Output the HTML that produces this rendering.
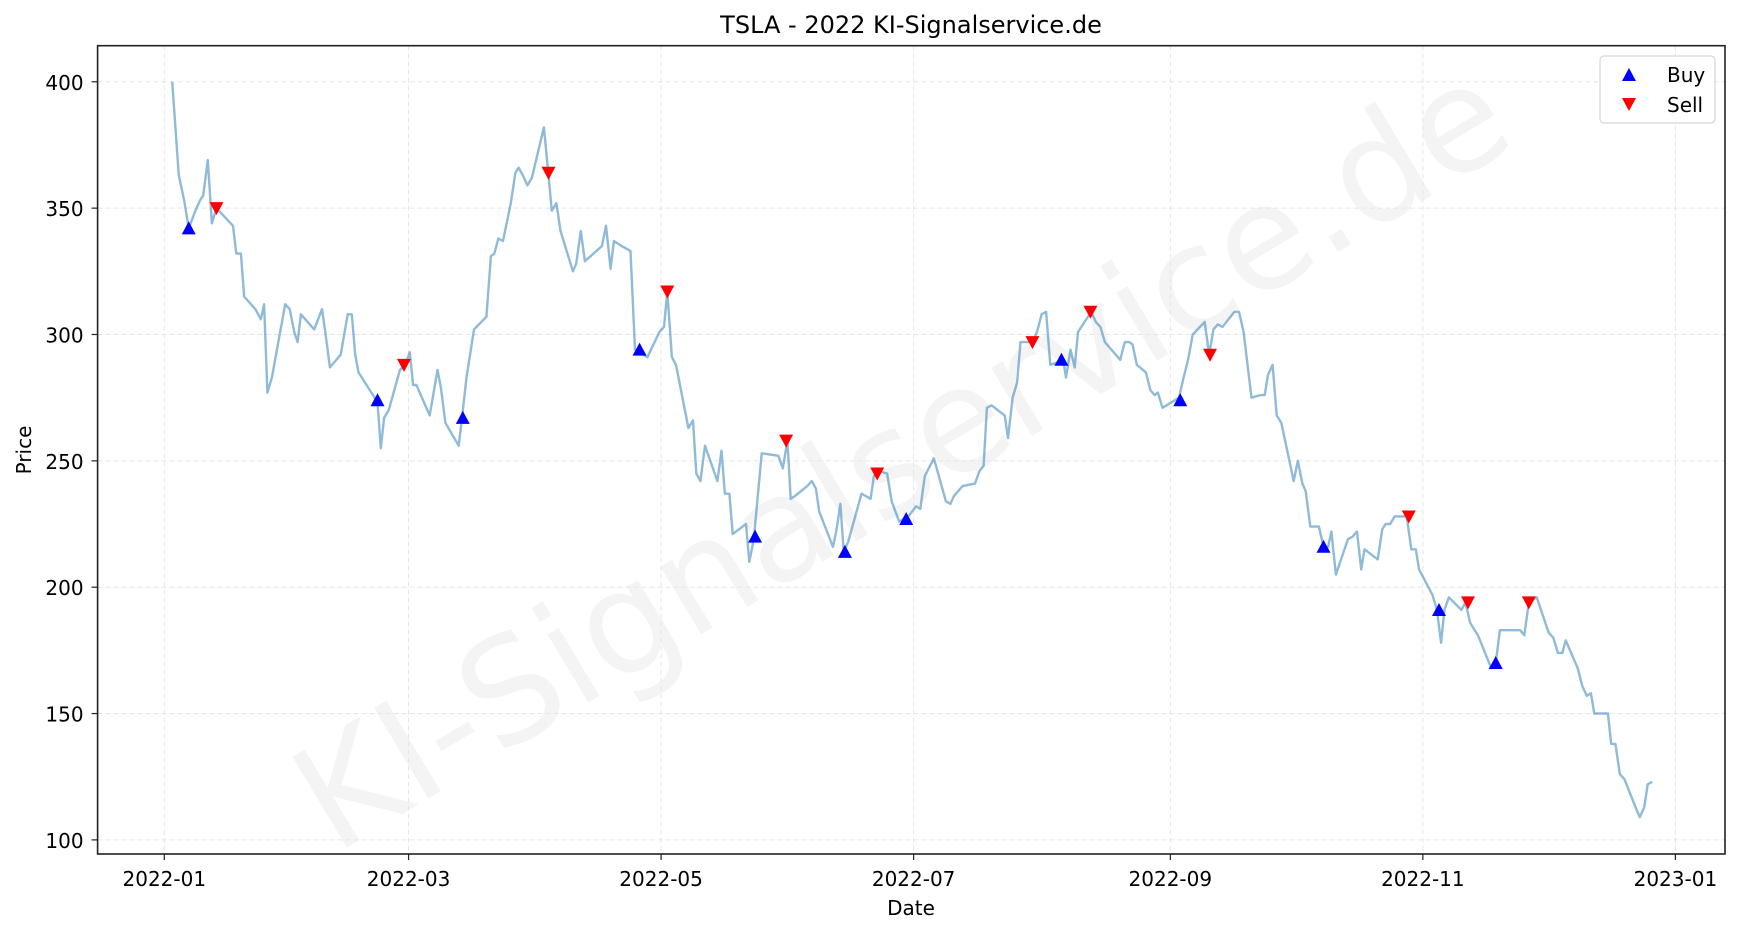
<!DOCTYPE html>
<html><head><meta charset="utf-8"><style>
html,body{margin:0;padding:0;background:#fff;}
svg text{font-family:"DejaVu Sans","Liberation Sans",sans-serif;}
</style></head><body>
<svg id="chart" width="1740" height="932" viewBox="0 0 1740 932" xmlns="http://www.w3.org/2000/svg">
<rect x="0" y="0" width="1740" height="932" fill="#fff"/>
<text x="905" y="505" font-size="145" fill="#000" fill-opacity="0.045" text-anchor="middle" transform="rotate(-31 905 462)">KI-Signalservice.de</text>
<g id="grid"></g>
<g id="lines"></g>
<g id="marks"></g>
<rect x="97.6" y="45.7" width="1627.4" height="808.3" fill="none" stroke="#222" stroke-width="1.6"/>
<g id="axes"></g>
<text x="911" y="33" font-size="24" text-anchor="middle" fill="#000">TSLA - 2022 KI-Signalservice.de</text>
<text x="911" y="915" font-size="20" text-anchor="middle" fill="#000">Date</text>
<text x="31" y="450" font-size="20" text-anchor="middle" fill="#000" transform="rotate(-90 31 450)">Price</text>
<g>
<rect x="1600" y="56" width="115" height="67" rx="4" fill="#fff" fill-opacity="0.85" stroke="#d6d6d6" stroke-width="1.2"/>
<polygon points="1629,68 1636,81 1622,81" fill="#0000ff"/>
<text x="1667" y="82" font-size="20">Buy</text>
<polygon points="1622,98 1636,98 1629,111" fill="#ff0000"/>
<text x="1667" y="112" font-size="20">Sell</text>
</g>
</svg>
<script>
const priceDays=[1.9,3.5,4.8,5.9,7.5,8.6,9.4,10.5,11.5,12.6,16.6,17.4,18.5,19.3,22.0,23.3,24.1,24.9,26.0,29.2,30.3,31.4,32.2,33.0,36.2,38.1,38.9,40.0,42.6,44.3,45.3,46.1,46.9,50.4,51.5,52.3,53.1,54.2,56.9,58.2,59.3,60.1,60.9,64.1,66.0,66.8,67.9,71.1,71.9,73.0,74.8,77.8,78.9,79.7,80.7,81.8,83.7,84.8,85.6,86.6,87.7,88.8,91.7,92.8,93.6,94.7,95.7,98.7,99.5,100.6,101.6,105.7,106.7,107.8,108.6,110.5,112.6,113.7,116.7,119.6,120.7,121.5,122.6,123.6,126.6,127.7,128.5,129.5,130.6,133.6,134.6,135.4,136.5,137.3,140.5,141.3,142.4,144.3,148.3,149.4,150.5,151.3,152.3,155.3,156.4,157.4,158.2,161.5,162.3,163.3,164.1,165.2,168.4,170.6,171.4,172.5,174.6,175.7,177.5,179.7,181.6,182.6,183.7,185.9,188.8,189.9,190.7,192.8,195.8,196.9,197.9,198.7,199.8,203.0,203.8,204.9,206.0,206.8,208.9,210.0,210.8,211.9,213.0,214.0,215.9,217.0,217.8,218.9,219.9,220.7,223.9,225.0,226.1,227.2,230.9,232.0,233.1,233.9,234.9,237.1,238.2,239.2,240.0,241.1,244.1,245.1,246.2,247.3,248.4,251.3,252.4,253.4,254.5,255.6,258.5,259.6,260.7,262.6,264.7,265.8,266.6,267.7,268.7,269.8,272.8,273.8,274.9,275.7,276.8,278.9,280.0,281.1,281.9,283.0,285.9,287.0,288.1,289.1,289.9,293.1,294.2,295.0,296.1,297.2,298.2,299.3,300.1,301.2,302.3,303.1,306.3,307.4,308.4,309.2,310.3,313.3,314.3,315.4,316.5,317.3,320.5,321.6,322.6,325.6,327.5,328.5,329.6,330.4,331.5,334.4,335.5,336.6,337.7,338.5,341.4,342.5,343.6,344.6,345.4,348.7,349.5,350.5,351.6,352.7,355.6,356.4,357.5,358.3,359.4];
const prices=[400,363,353,342,349,353,355,369,344,350,343,332,332,315,310,306,312,277,283,312,310,301,297,308,302,310,301,287,292,308,308,292,285,276,273,255,267,270,286,288,293,280,280,268,286,279,265,256,267,283,302,307,331,332,338,337,352,364,366,363,359,362,382,363,349,352,341,325,328,341,329,335,343,326,337,335,333,294,291,301,303,317,291,288,263,266,245,242,256,242,254,237,237,221,225,210,219,253,252,247,258,235,236,240,242,239,230,216,222,233,214,218,237,235,244,246,245,234,226,228,232,231,244,251,234,233,236,240,241,246,248,271,272,268,259,275,281,297,297,298,301,308,309,288,289,291,283,294,287,301,309,305,303,297,290,297,297,296,288,285,278,276,277,271,274,275,283,290,300,305,292,302,304,303,309,309,301,275,276,276,284,288,268,265,242,250,241,238,224,224,216,216,222,205,219,220,222,207,215,211,223,225,225,228,228,228,228,215,215,207,197,191,178,191,196,191,194,186,183,181,168,170,183,183,183,181,194,195,196,182,180,174,174,179,168,161,157,158,150,150,138,138,126,124,112,109,113,122,123];
const buyDays=[5.9,51.5,72.1,114.8,142.7,164.4,179.2,216.7,245.4,280.0,307.9,321.6];
const buyPrices=[342,274,267,294,220,214,227,290,274,216,191,170];
const sellDays=[12.6,57.9,92.8,121.5,150.2,172.2,209.7,223.7,252.6,300.6,314.9,329.6];
const sellPrices=[350,288,364,317,258,245,297,309,292,228,194,194];
const yTicks=[100,150,200,250,300,350,400];
const xTickDays=[0,59,120,181,243,304,365];
const xTickLabels=["2022-01","2022-03","2022-05","2022-07","2022-09","2022-11","2023-01"];

const NS="http://www.w3.org/2000/svg";
const X0=97.6,X1=1725,Y0=45.7,Y1=854;
function xs(d){return 164.3+d*4.14;}
function ys(p){return 81.8+(400-p)*2.527;}
function mk(tag,attrs,parent){const e=document.createElementNS(NS,tag);for(const k in attrs)e.setAttribute(k,attrs[k]);parent.appendChild(e);return e;}
const grid=document.getElementById('grid'),axes=document.getElementById('axes'),lines=document.getElementById('lines'),marks=document.getElementById('marks');
yTicks.forEach(v=>{
  const y=ys(v);
  const g=mk('line',{x1:X0,x2:X1,y1:y,y2:y,stroke:'#e6e6e6','stroke-width':1,'stroke-dasharray':'5,3'},grid);
  
  
  const t=mk('line',{x1:X0-6,x2:X0,y1:y,y2:y,stroke:'#222','stroke-width':1.2},axes);
  
  
  const l=mk('text',{x:X0-14,y:y+8,'font-size':20,'text-anchor':'end',fill:'#000'},axes);
  l.textContent=v;
  
  
});
xTickDays.forEach((d,i)=>{
  const x=xs(d);
  const g=mk('line',{x1:x,x2:x,y1:Y0,y2:Y1,stroke:'#e6e6e6','stroke-width':1,'stroke-dasharray':'5,3'},grid);
  
  
  const t=mk('line',{x1:x,x2:x,y1:Y1,y2:Y1+6,stroke:'#222','stroke-width':1.2},axes);
  
  
  const l=mk('text',{x:x,y:Y1+32,'font-size':20,'text-anchor':'middle',fill:'#000'},axes);
  l.textContent=xTickLabels[i];
  
  
});
const pts=priceDays.map((d,i)=>xs(d).toFixed(1)+','+ys(prices[i]).toFixed(1)).join(' ');
const pl=mk('polyline',{points:pts,fill:'none',stroke:'#1f77b4','stroke-opacity':0.5,'stroke-width':2.4,'stroke-linejoin':'round'},lines);


buyDays.forEach((d,i)=>{
  const x=xs(d),y=ys(buyPrices[i]);
  const p=mk('polygon',{points:`${x},${y-7} ${x+7},${y+6} ${x-7},${y+6}`,fill:'#0000ff'},marks);
  
  
});
sellDays.forEach((d,i)=>{
  const x=xs(d),y=ys(sellPrices[i]);
  const p=mk('polygon',{points:`${x-7},${y-6} ${x+7},${y-6} ${x},${y+7}`,fill:'#ff0000'},marks);
  
  
});
</script>
</body></html>
